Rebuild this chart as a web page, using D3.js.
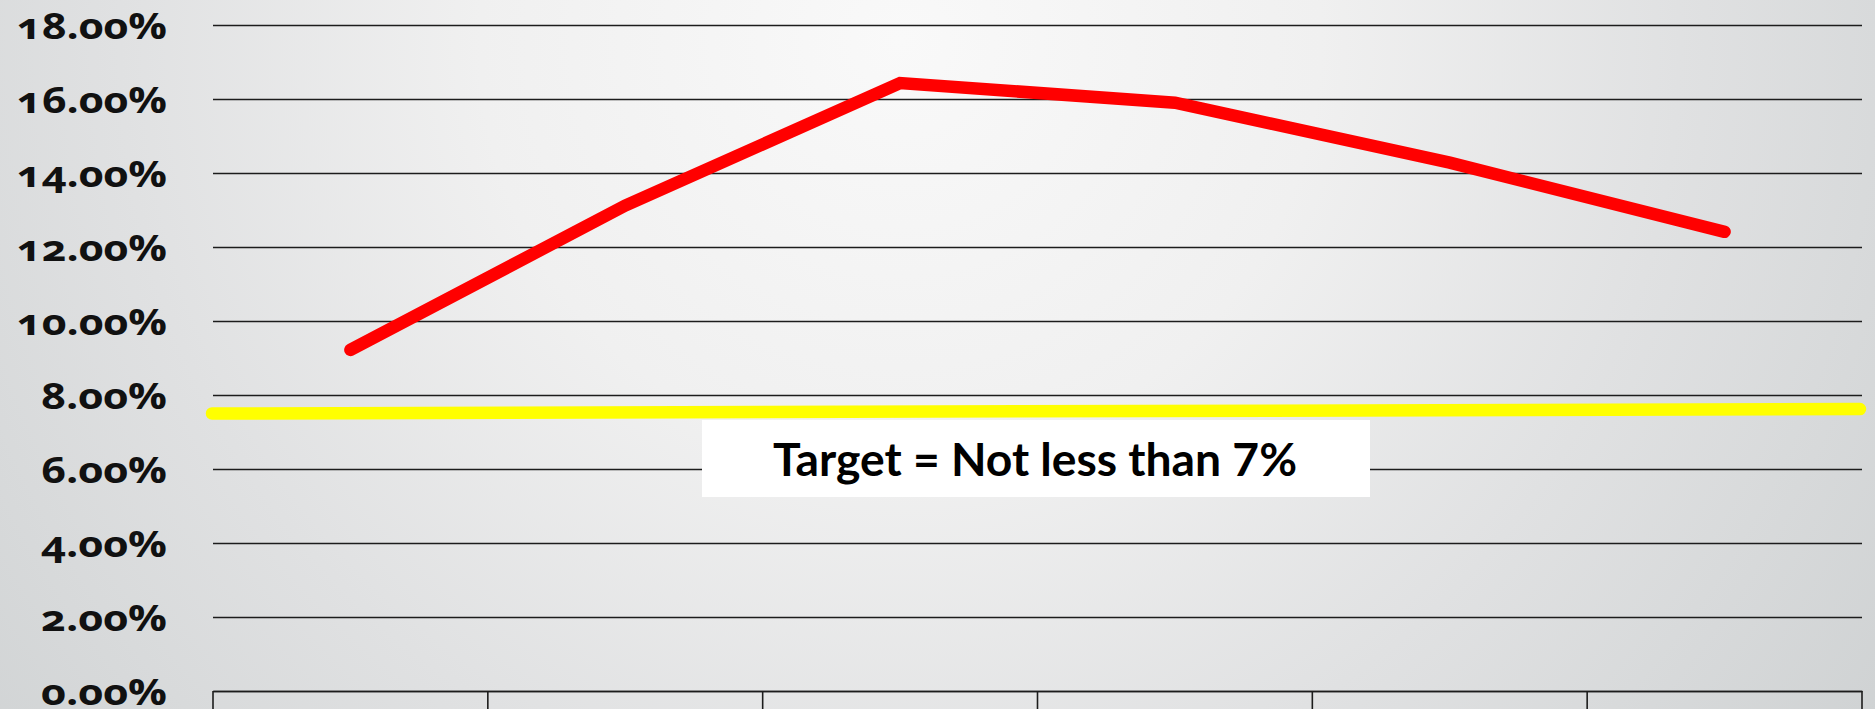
<!DOCTYPE html>
<html>
<head>
<meta charset="utf-8">
<script src="https://cdn.jsdelivr.net/npm/d3@7/dist/d3.min.js"></script>
<style>
  html, body { margin: 0; padding: 0; width: 1875px; height: 709px; overflow: hidden; }
  svg { display: block; }
  .ylab { font-family: "Open Sans", Lato, sans-serif; font-weight: 700; font-size: 35px; fill: #111; font-feature-settings: "onum" 1; font-variant-numeric: oldstyle-nums; }
  .note { font-family: Lato, "Open Sans", sans-serif; font-weight: 700; font-size: 45px; fill: #000; }
</style>
</head>
<body>
<svg id="chart" width="1875" height="709"></svg>
<script>
// ---- data ----
const categories = ["P1", "P2", "P3", "P4", "P5", "P6"];
const values = [9.22, 13.12, 16.43, 15.9, 14.28, 12.41];
const yTicks = [0, 2, 4, 6, 8, 10, 12, 14, 16, 18];
const targetValues = [7.5, 7.62];   // target band, left end / right end
const noteText = "Target = Not less than 7%";

// ---- layout ----
const W = 1875, H = 709;
const plot = { left: 213, right: 1862, top: 25, bottom: 691 };

const svg = d3.select("#chart");

// background gradient
const defs = svg.append("defs");
const grad = defs.append("radialGradient")
  .attr("id", "bg").attr("gradientUnits", "userSpaceOnUse")
  .attr("cx", 900).attr("cy", 40).attr("r", 1200)
  .attr("fx", 900).attr("fy", 40);
grad.append("stop").attr("offset", 0).attr("stop-color", "#f9f9f9");
grad.append("stop").attr("offset", 0.35).attr("stop-color", "#f0f0f0");
grad.append("stop").attr("offset", 0.65).attr("stop-color", "#e0e1e2");
grad.append("stop").attr("offset", 1).attr("stop-color", "#cfd2d3");
svg.append("rect").attr("width", W).attr("height", H).attr("fill", "url(#bg)");

const x = d3.scaleBand().domain(categories).range([plot.left, plot.right]).padding(0);
const y = d3.scaleLinear().domain([0, 18]).range([plot.bottom, plot.top]);

// gridlines
const yAxis = d3.axisLeft(y).tickValues(yTicks)
  .tickSize(-(plot.right - plot.left)).tickFormat("");
const gy = svg.append("g").attr("transform", `translate(${plot.left},0)`).call(yAxis);
gy.select(".domain").remove();
gy.selectAll(".tick line").attr("stroke", "#1c1c1c").attr("stroke-width", 1.6);

// y labels
svg.append("g").selectAll("text").data(yTicks).join("text")
  .attr("class", "ylab")
  .attr("x", 167).attr("y", d => y(d) + 14)
  .attr("text-anchor", "end")
  .attr("textLength", d => d >= 10 ? 150 : 126)
  .attr("lengthAdjust", "spacingAndGlyphs")
  .text(d => d3.format(".2f")(d) + "%");

// x axis with category dividers
const xAxis = d3.axisBottom(x).tickSize(0).tickFormat("");
const gx = svg.append("g").attr("transform", `translate(0,${plot.bottom})`).call(xAxis);
gx.select(".domain").attr("stroke", "#1c1c1c").attr("stroke-width", 1.6);
const bounds = categories.map(c => x(c)).concat([x(categories[categories.length - 1]) + x.bandwidth()]);
gx.selectAll(".divider").data(bounds).join("line")
  .attr("class", "divider")
  .attr("x1", d => d).attr("x2", d => d)
  .attr("y1", 0).attr("y2", 30)
  .attr("stroke", "#1c1c1c").attr("stroke-width", 1.6);

// target line
const tx = d3.scaleLinear().domain([0, 1]).range([plot.left - 1, plot.right - 2]);
svg.append("path")
  .datum(targetValues.map((v, i) => [i, v]))
  .attr("d", d3.line().x(d => tx(d[0])).y(d => y(d[1])))
  .attr("fill", "none").attr("stroke", "#ffff00")
  .attr("stroke-width", 12.5).attr("stroke-linecap", "round");

// note box
const boxG = svg.append("g");
boxG.append("rect").attr("x", 702).attr("y", 420).attr("width", 668).attr("height", 77).attr("fill", "#ffffff");
boxG.append("text").attr("class", "note")
  .attr("x", 773).attr("y", 476)
  .attr("textLength", 524).attr("lengthAdjust", "spacingAndGlyphs")
  .text(noteText);

// red series line
svg.append("path")
  .datum(values.map((v, i) => ({ c: categories[i], v })))
  .attr("d", d3.line().x(d => x(d.c) + x.bandwidth() / 2).y(d => y(d.v)))
  .attr("fill", "none").attr("stroke", "#ff0000")
  .attr("stroke-width", 12.5).attr("stroke-linecap", "round").attr("stroke-linejoin", "miter");
</script>
</body>
</html>
